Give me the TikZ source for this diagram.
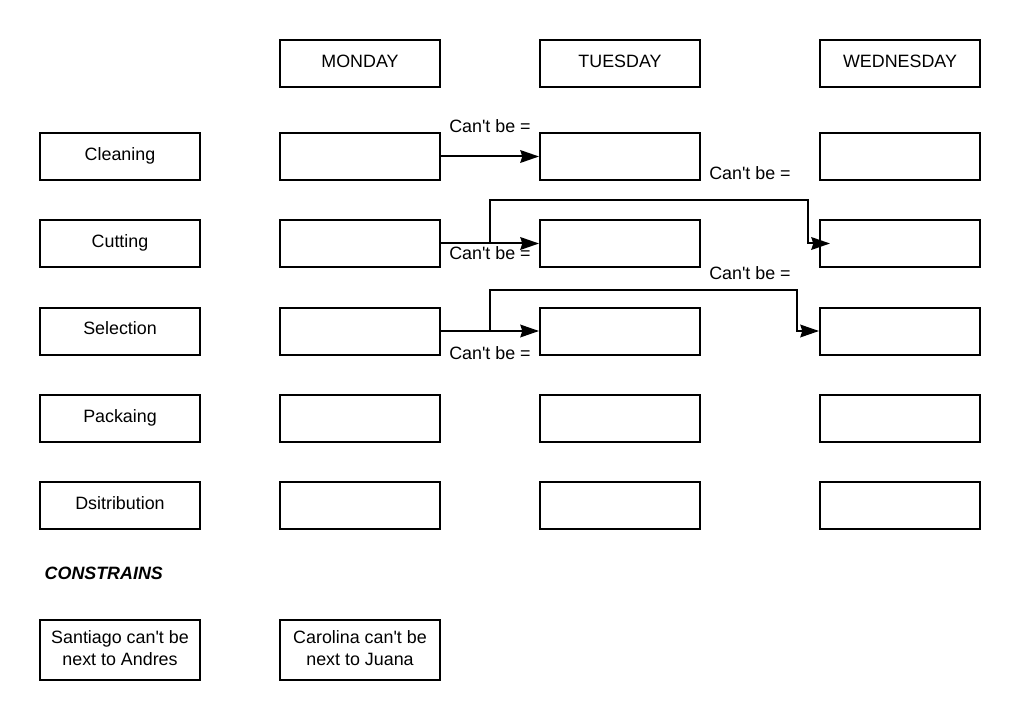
\documentclass[tikz,border=0pt]{standalone}
\usepackage{fontspec}
\setmainfont{Liberation Sans}[Ligatures=TeXOff]
\usetikzlibrary{arrows.meta,positioning}

\begin{document}
\begin{tikzpicture}[x=0.75pt,y=-0.75pt,
    every node/.style={font=\fontsize{13.4}{16}\selectfont},
    cell/.style={draw, line width=1.5pt, minimum width=120pt, minimum height=35.25pt, inner sep=0pt, text height=9.5pt, text depth=4pt},
    note/.style={draw, line width=1.5pt, minimum width=120pt, minimum height=45pt, inner sep=0pt, align=center},
    arr/.style={line width=1.5pt, -{Stealth[length=14pt,width=9.5pt,inset=1.5pt]}}]
    \useasboundingbox (0,0) rectangle (1020,720);

    % day headers
    \node[cell] (mon) at (360,63.5) {MONDAY};
    \node[cell] (tue) at (620,63.5) {TUESDAY};
    \node[cell] (wed) at (900,63.5) {WEDNESDAY};

    % tasks
    \node[cell] (clean) at (120,156.5) {Cleaning};
    \node[cell] (cut) at (120,243.5) {Cutting};
    \node[cell] (sel) at (120,331) {Selection};
    \node[cell] (pack) at (120,418.5) {Packaing};
    \node[cell] (dist) at (120,505.5) {Dsitribution};

    % empty slots
    \node[cell] (mon1) at (360,156.5) {};
    \node[cell] (mon2) at (360,243.5) {};
    \node[cell] (mon3) at (360,331) {};
    \node[cell] (mon4) at (360,418.5) {};
    \node[cell] (mon5) at (360,505.5) {};
    \node[cell] (tue1) at (620,156.5) {};
    \node[cell] (tue2) at (620,243.5) {};
    \node[cell] (tue3) at (620,331) {};
    \node[cell] (tue4) at (620,418.5) {};
    \node[cell] (tue5) at (620,505.5) {};
    \node[cell] (wed1) at (900,156.5) {};
    \node[cell] (wed2) at (900,243.5) {};
    \node[cell] (wed3) at (900,331) {};
    \node[cell] (wed4) at (900,418.5) {};
    \node[cell] (wed5) at (900,505.5) {};

    % constraints
    \node[anchor=west] (cons) at (40,573) {\bfseries\itshape CONSTRAINS};
    \node[note] (santi) at (120,650) {Santiago can't be\\next to Andres\rule[-3pt]{0pt}{3pt}};
    \node[note] (caro) at (360,650) {Carolina can't be\\next to Juana\rule[-3pt]{0pt}{3pt}};

    % labels
    \node (lab1) at (490,126) {Can't be =};
    \node (lab2) at (750,173) {Can't be =};
    \node (lab3) at (490,253) {Can't be =};
    \node (lab4) at (750,273) {Can't be =};
    \node (lab5) at (490,353) {Can't be =};

    \coordinate (j2) at (490,243.5);
    \coordinate (k2) at (808,200);
    \coordinate (t2) at (830,243.5);
    \coordinate (j3) at (490,331);
    \coordinate (k3) at (797,290);

    \draw[arr] (mon1.east) -- (tue1.west);
    \draw[arr] (mon2.east) -- (tue2.west);
    \draw[arr] (mon3.east) -- (tue3.west);
    \draw[arr] (j2) |- (k2) |- (t2);
    \draw[arr] (j3) |- (k3) |- (wed3.west);
\end{tikzpicture}
\end{document}
